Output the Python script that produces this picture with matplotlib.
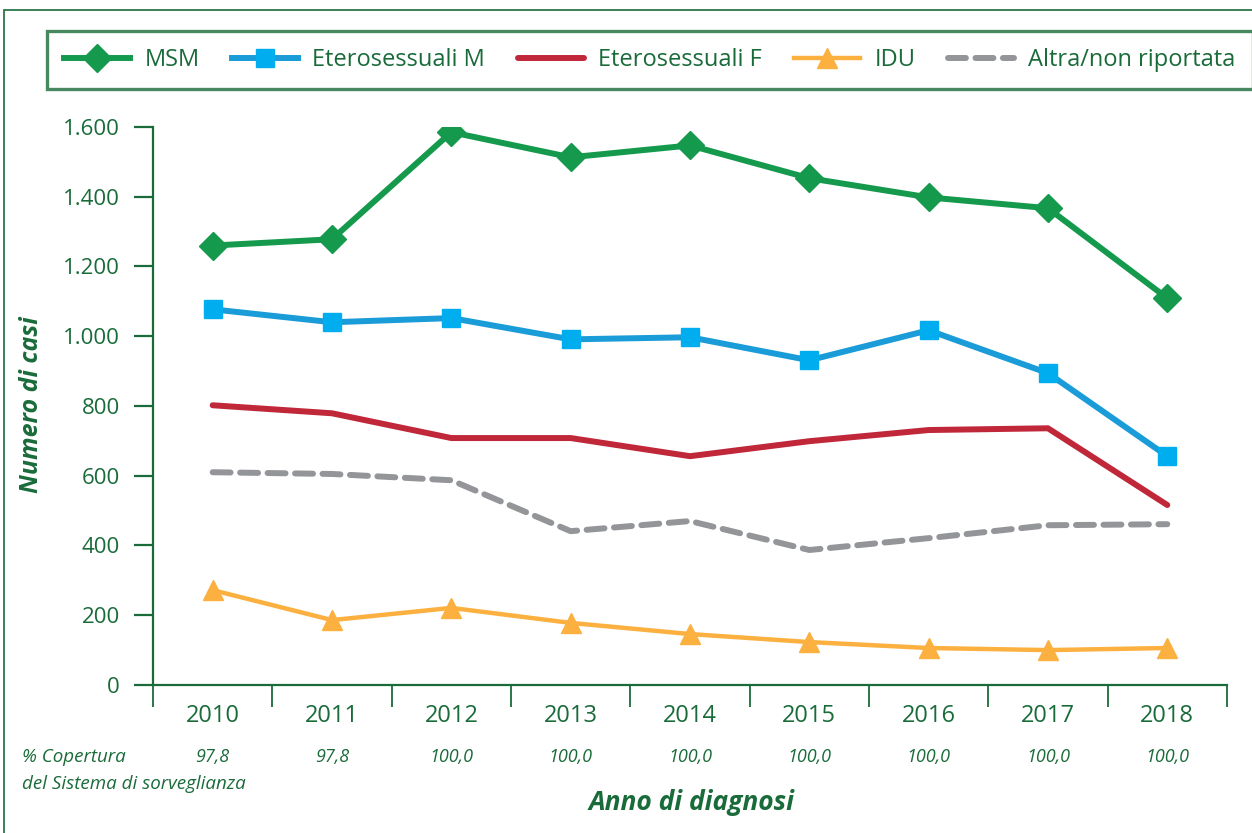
import matplotlib.pyplot as plt
from matplotlib.patches import Rectangle

plt.rcParams['font.family'] = ['Open Sans', 'DejaVu Sans']

# data
anni = ['2010', '2011', '2012', '2013', '2014', '2015', '2016', '2017', '2018']
copertura = ['97,8', '97,8', '100,0', '100,0', '100,0', '100,0', '100,0', '100,0', '100,0']
msm = [1260, 1278, 1585, 1513, 1547, 1453, 1398, 1367, 1109]
etero_m = [1077, 1040, 1052, 991, 997, 931, 1017, 894, 656]
etero_f = [802, 779, 708, 708, 656, 699, 731, 736, 516]
idu = [272, 186, 221, 178, 146, 123, 106, 100, 106]
altra = [610, 605, 587, 441, 470, 387, 421, 458, 461]

verde_testo = '#1a6b3a'
verde_linea = '#159a4d'

fig = plt.figure(figsize=(12.52, 8.33), dpi=100)
ax = fig.add_axes([0.1222, 0.1777, 0.8578, 0.6699])

x = range(len(anni))
l1, = ax.plot(x, msm, color=verde_linea, lw=4.3, marker='D', markersize=14,
              label='MSM')
l2, = ax.plot(x, etero_m, color='#1a9cd8', lw=4.3, marker='s', markersize=13,
              markerfacecolor='#00aeef', markeredgecolor='#00aeef', label='Eterosessuali M')
l3, = ax.plot(x, etero_f, color='#c0283a', lw=4.3, solid_capstyle='round',
              label='Eterosessuali F')
l4, = ax.plot(x, idu, color='#fbb040', lw=3.2, marker='^', markersize=15,
              label='IDU')
l5, = ax.plot(x, altra, color='#939598', lw=4.3, ls=(0, (3, 1.6)),
              dash_capstyle='round', label='Altra/non riportata')

# assi
ax.set_xlim(-0.5, len(anni) - 0.5)
ax.set_ylim(0, 1600)
for s in ['top', 'right']:
    ax.spines[s].set_visible(False)
for s in ['left', 'bottom']:
    ax.spines[s].set_color(verde_testo)
    ax.spines[s].set_linewidth(1.6)

ax.set_yticks(range(0, 1601, 200))
ax.set_yticklabels([f'{v:,}'.replace(',', '.') for v in range(0, 1601, 200)])
ax.tick_params(axis='y', length=14, width=1.6, color=verde_testo,
               labelcolor=verde_testo, labelsize=16, pad=10)

ax.set_xticks([i - 0.5 for i in range(len(anni) + 1)])
ax.set_xticklabels([])
ax.tick_params(axis='x', which='major', length=16, width=1.3, color=verde_testo)
ax.set_xticks(list(x), minor=True)
ax.set_xticklabels(anni, minor=True)
ax.tick_params(axis='x', which='minor', length=0, labelcolor=verde_testo,
               labelsize=17, pad=14)

# copertura
for i, c in enumerate(copertura):
    ax.text(i, -0.129, c, transform=ax.get_xaxis_transform(), ha='center',
            va='center', fontsize=13, style='italic', color=verde_testo)
fig.text(22 / 1252, 1 - 757 / 833, '% Copertura', ha='left', va='center',
         fontsize=13.5, style='italic', color=verde_testo)
fig.text(22 / 1252, 1 - 784 / 833, 'del Sistema di sorveglianza', ha='left',
         va='center', fontsize=13.5, style='italic', color=verde_testo)

fig.text(692 / 1252, 1 - 802 / 833, 'Anno di diagnosi', ha='center', va='center',
         fontsize=19, style='italic', weight='bold', color=verde_testo)
fig.text(32 / 1252, 1 - 405 / 833, 'Numero di casi', ha='center', va='center',
         rotation=90, fontsize=18, style='italic', weight='bold', color=verde_testo)

# legenda
leg = fig.legend(handles=[l1, l2, l3, l4, l5], ncol=5, loc='upper left',
                 bbox_to_anchor=(47 / 1252, 1 - 31 / 833),
                 frameon=True, fancybox=False, fontsize=17,
                 handlelength=2.8, columnspacing=1.38, handletextpad=0.6,
                 borderpad=0.72, borderaxespad=0)
leg.get_frame().set_edgecolor(verde_testo)
leg.get_frame().set_linewidth(2.4)
for t in leg.get_texts():
    t.set_color(verde_testo)

# cornice esterna
fig.patches.append(Rectangle((4 / 1252, -0.1), 1.2, 1 - 10 / 833 + 0.1,
                             transform=fig.transFigure, fill=False,
                             edgecolor=verde_testo, lw=1.2))

fig.savefig('out.png', dpi=100)
